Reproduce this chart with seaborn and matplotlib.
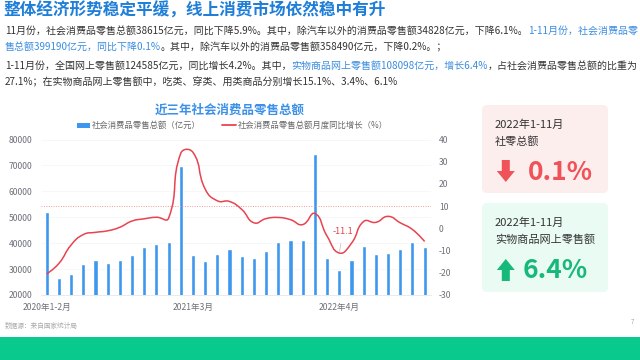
import numpy as np
import pandas as pd
import matplotlib
matplotlib.use('Agg')
import matplotlib.pyplot as plt
import seaborn as sns
from matplotlib.path import Path
from matplotlib.patches import PathPatch, FancyBboxPatch, Rectangle, Polygon

# ---------------- data ----------------
months = ['2020年1-2月', '2020年3月', '2020年4月', '2020年5月', '2020年6月', '2020年7月',
          '2020年8月', '2020年9月', '2020年10月', '2020年11月', '2020年12月',
          '2021年1-2月', '2021年3月', '2021年4月', '2021年5月', '2021年6月', '2021年7月',
          '2021年8月', '2021年9月', '2021年10月', '2021年11月', '2021年12月',
          '2022年1-2月', '2022年3月', '2022年4月', '2022年5月', '2022年6月', '2022年7月',
          '2022年8月', '2022年9月', '2022年10月', '2022年11月']
retail = [52130, 26450, 28178, 31973, 33526, 32203, 33571, 35295, 38576, 39514, 40566,
          69737, 35484, 33153, 35945, 37586, 34925, 34395, 36833, 40454, 41043, 41269,
          74426, 34233, 29483, 33547, 38742, 35870, 36258, 37745, 40271, 38615]
growth = [-20.5, -15.8, -7.5, -2.8, -1.8, -1.1, 0.5, 3.3, 4.3, 5.0, 4.6,
          33.8, 34.2, 17.7, 12.4, 12.1, 8.5, 2.5, 4.4, 4.9, 3.9, 1.7,
          6.7, -3.5, -11.1, -6.7, 3.1, 2.7, 5.4, 2.5, -0.5, -5.9]
left_ticks = [20000, 30000, 40000, 50000, 60000, 70000, 80000]
right_ticks = [-30, -20, -10, 0, 10, 20, 30, 40]
ref_growth = 10
min_label_idx = 24

bar_name = '社会消费品零售总额（亿元）'
line_name = '社会消费品零售总额月度同比增长（%）'
chart_title = '近三年社会消费品零售总额'
page_title = '整体经济形势稳定平缓，线上消费市场依然稳中有升'

DARK = '#333333'
BLUE = '#3a8ce0'
body_lines = [
    [('11月份，社会消费品零售总额38615亿元，同比下降5.9%。其中，除汽车以外的消费品零售额34828亿元，下降6.1%。', DARK),
     ('1-11月份，社会消费品零', BLUE)],
    [('售总额399190亿元，同比下降0.1%', BLUE),
     ('。其中，除汽车以外的消费品零售额358490亿元，下降0.2%。；', DARK)],
    [('1-11月份，全国网上零售额124585亿元，同比增长4.2%。其中，', DARK),
     ('实物商品网上零售额108098亿元，增长6.4%', BLUE),
     ('，占社会消费品零售总额的比重为', DARK)],
    [('27.1%；在实物商品网上零售额中，吃类、穿类、用类商品分别增长15.1%、3.4%、6.1%', DARK)],
]
card1 = ('2022年1-11月', '社零总额', '0.1%')
card2 = ('2022年1-11月', '实物商品网上零售额', '6.4%')

df = pd.DataFrame({'月份': months, '零售额': retail, '同比': growth})

# ---------------- style ----------------
sns.set_theme(style='white')
plt.rcParams['font.family'] = ['Noto Sans CJK SC', 'DejaVu Sans']
plt.rcParams['axes.unicode_minus'] = False

W, H = 640, 360
fig = plt.figure(figsize=(6.4, 3.6), dpi=100)
fig.patch.set_facecolor('white')

# overlay axes in pixel coordinates
ov = fig.add_axes([0, 0, 1, 1], zorder=0)
ov.set_xlim(0, W)
ov.set_ylim(H, 0)
ov.axis('off')

# ---------------- chart ----------------
px_left, px_right, px_top, px_bottom = 40.6, 430.7, 139.5, 295.0
ax = fig.add_axes([px_left / W, 1 - px_bottom / H, (px_right - px_left) / W,
                   (px_bottom - px_top) / H], zorder=2)
ax.patch.set_alpha(0)
sns.barplot(data=df, x='月份', y='零售额', color='#3d97ee', width=0.34,
            saturation=1, ax=ax, zorder=2)
ax.set_xlim(-0.5, len(months) - 0.5)
ax.set_ylim(left_ticks[0], left_ticks[-1])
ax.set_yticks(left_ticks)
ax.set_yticklabels([str(v) for v in left_ticks])
ax.set_xticks([0, 12, 24])
ax.set_xticklabels([months[i] for i in (0, 12, 24)])
ax.set_xlabel('')
ax.set_ylabel('')
ax.tick_params(axis='both', length=0, labelsize=6.2, labelcolor='#6e7079')
ax.tick_params(axis='y', pad=6)
ax.tick_params(axis='x', pad=6)
for s in ['left', 'right', 'top']:
    ax.spines[s].set_visible(False)
ax.spines['bottom'].set_color('#e4e7ee')
ax.spines['bottom'].set_linewidth(0.6)
ax.grid(axis='y', color='#f4f4f6', lw=0.5, zorder=0)
ax.set_axisbelow(True)

ax2 = ax.twinx()
ax2.set_ylim(right_ticks[0], right_ticks[-1])
ax2.set_yticks(right_ticks)
ax2.set_yticklabels([str(v) for v in right_ticks])
ax2.tick_params(axis='y', length=0, labelsize=6.2, labelcolor='#6e7079', pad=6)
for s in ax2.spines.values():
    s.set_visible(False)
ax2.grid(False)

# smooth line (echarts-like bezier smoothing computed in display space)
xs = np.arange(len(growth), dtype=float)
pts = ax2.transData.transform(np.column_stack([xs, growth]))
smooth = 0.5
cps = []
n = len(pts)
for i in range(n):
    if i == 0 or i == n - 1:
        cps.append(pts[i].copy())
        continue
    v = (pts[i + 1] - pts[i - 1]) * smooth
    d0 = np.linalg.norm(pts[i] - pts[i - 1])
    d1 = np.linalg.norm(pts[i] - pts[i + 1])
    s = d0 + d1
    d0, d1 = d0 / s, d1 / s
    cps.append(pts[i] - v * d0)
    cps.append(pts[i] + v * d1)
verts = [pts[0]]
codes = [Path.MOVETO]
for i in range(n - 1):
    verts += [cps[2 * i], cps[2 * i + 1], pts[i + 1]]
    codes += [Path.CURVE4] * 3
verts = ax2.transData.inverted().transform(np.array(verts))
ax2.add_patch(PathPatch(Path(verts, codes), fill=False, edgecolor='#e8434f',
                        lw=1.1, transform=ax2.transData, zorder=3))
ax2.axhline(ref_growth, color='#f19a9a', lw=0.7, ls=(0, (1, 1.5)), zorder=1)
ax2.annotate(f'{growth[min_label_idx]}', xy=(min_label_idx, growth[min_label_idx]),
             xytext=(min_label_idx + 0.3, growth[min_label_idx] + 9.6),
             ha='center', va='center', fontsize=6.5, color='#e5414a',
             arrowprops=dict(arrowstyle='-', color='#c8c8c8', lw=0.6,
                             shrinkA=3, shrinkB=1))

# chart title & legend
ov.text(230, 110, chart_title, ha='center', va='center', fontsize=9,
        fontweight='bold', color='#3b90e8')
ov.add_patch(Rectangle((77, 122.5), 13, 5, color='#3d97ee', lw=0))
ov.text(92, 125, bar_name, ha='left', va='center', fontsize=6, color='#666666')
ov.plot([222, 236], [125, 125], color='#e8434f', lw=1.3)
ov.text(238, 125, line_name, ha='left', va='center', fontsize=6, color='#666666')

# ---------------- page text ----------------
ov.text(3, 11, page_title, ha='left', va='center', fontsize=12,
        fontweight='bold', color='#1f7ed8')
renderer = fig.canvas.get_renderer()

# measure widest body line to fit it into 632 px
def line_width(segs, size):
    w = 0
    for txt, col in segs:
        t = ov.text(0, 0, txt, fontsize=size)
        w += t.get_window_extent(renderer=renderer).width
        t.remove()
    return w

base = 7.3
widest = max(line_width(body_lines[0], base), line_width(body_lines[2], base))
body_size = base * 631 / widest

line_y = [31, 47, 66, 82]
for y, segs in zip(line_y, body_lines):
    x = 5
    for txt, col in segs:
        t = ov.text(x, y, txt, ha='left', va='center', fontsize=body_size, color=col)
        bb = t.get_window_extent(renderer=renderer)
        x = bb.x1

ov.text(5, 326, '数据源：来自国家统计局', ha='left', va='center', fontsize=4.8,
        color='#aaaaaa')
ov.text(632, 322, '7', ha='center', va='center', fontsize=4.5, color='#aaaaaa')
ov.add_patch(Rectangle((0, 337), W, 23, color='#0ac98c', lw=0))

# ---------------- cards ----------------
def card(y0, y1, bg, fg, texts, up):
    ov.add_patch(FancyBboxPatch((486, y0 + 4), 118, (y1 - y0) - 8,
                                boxstyle='round,pad=4,rounding_size=5',
                                fc=bg, ec='none'))
    ov.text(495, y0 + 20, texts[0], ha='left', va='center', fontsize=8, color=DARK)
    ov.text(495, y0 + 36.5, texts[1], ha='left', va='center', fontsize=8, color=DARK)
    ov.text(523 if up else 528, y0 + 67, texts[2], ha='left', va='center',
            fontsize=19, fontweight='bold', color=fg)
    cx = 505.8
    if up:
        top = y0 + 56
        poly = [(cx, top), (cx + 9, top + 11), (cx + 4, top + 11), (cx + 4, top + 22),
                (cx - 4, top + 22), (cx - 4, top + 11), (cx - 9, top + 11)]
    else:
        top = y0 + 55
        poly = [(cx - 4, top), (cx + 4, top), (cx + 4, top + 11), (cx + 9, top + 11),
                (cx, top + 22), (cx - 9, top + 11), (cx - 4, top + 11)]
    ov.add_patch(Polygon(poly, closed=True, fc=fg, ec='none'))

card(105, 193, '#fdeeee', '#f0525a', card1, up=False)
card(203, 292, '#eafbf4', '#17b97b', card2, up=True)

fig.savefig('out.png', dpi=100)
